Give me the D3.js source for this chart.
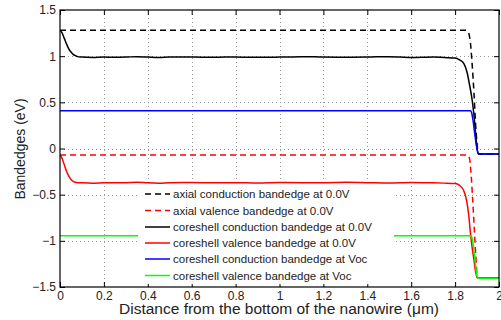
<!DOCTYPE html>
<html><head><meta charset="utf-8">
<script src="https://cdn.jsdelivr.net/npm/d3@7"></script>
<style>
html,body{margin:0;padding:0;background:#fff;}
svg text{font-family:"Liberation Sans",Arial,Helvetica,sans-serif;fill:#222;}
</style></head>
<body><svg id="chart" width="501" height="320"></svg>
<script>
// ---- data ----
const xTicks = [0, 0.2, 0.4, 0.6, 0.8, 1, 1.2, 1.4, 1.6, 1.8, 2];
const yTicks = [-1.5, -1, -0.5, 0, 0.5, 1, 1.5];
const xTickLabels = ["0","0.2","0.4","0.6","0.8","1","1.2","1.4","1.6","1.8","2"];
const yTickLabels = ["\u22121.5","\u22121","\u22120.5","0","0.5","1","1.5"];

const seriesNames = [
  "axial conduction bandedge at 0.0V",
  "axial valence bandedge at 0.0V",
  "coreshell conduction bandedge at 0.0V",
  "coreshell valence bandedge at 0.0V",
  "coreshell conduction bandedge at Voc",
  "coreshell valence bandedge at Voc"
];

const xAxialCond = [0, 1.85, 1.86, 1.87, 1.878, 1.886, 1.893, 1.9, 1.906, 2.0];
const yAxialCond = [1.28, 1.28, 1.26, 1.14, 0.9, 0.6, 0.28, 0.05, -0.06, -0.06];

const xAxialVal = [0, 1.855, 1.865, 1.872, 1.88, 1.887, 1.894, 1.902, 2.0];
const yAxialVal = [-0.07, -0.07, -0.10, -0.25, -0.55, -0.85, -1.15, -1.40, -1.40];

const xCoreCond = [0, 0.01, 0.02, 0.03, 0.04, 0.05, 0.06, 0.07, 0.08, 0.1, 0.15, 0.2, 0.25, 0.3, 0.35, 0.4, 0.45, 0.5, 0.6, 0.7, 0.8, 0.9, 1.0, 1.1, 1.2, 1.3, 1.4, 1.5, 1.6, 1.7, 1.75, 1.8, 1.82, 1.84, 1.855, 1.865, 1.878, 1.886, 1.893, 1.9, 1.908, 1.92, 2.0];
const yCoreCond = [1.28, 1.25, 1.19, 1.13, 1.08, 1.045, 1.02, 1.005, 0.995, 0.99, 0.985, 0.99, 0.988, 0.99, 0.995, 0.99, 0.985, 0.99, 0.99, 0.988, 0.992, 0.987, 0.99, 0.995, 0.99, 0.988, 0.99, 0.995, 0.985, 0.99, 0.985, 0.98, 0.96, 0.92, 0.82, 0.70, 0.52, 0.36, 0.17, 0.0, -0.06, -0.06, -0.06];

const xCoreVal = [0, 0.01, 0.02, 0.03, 0.04, 0.05, 0.06, 0.07, 0.08, 0.1, 0.15, 0.2, 0.25, 0.3, 0.35, 0.4, 0.45, 0.5, 0.6, 0.7, 0.8, 0.9, 1.0, 1.1, 1.2, 1.3, 1.4, 1.5, 1.6, 1.7, 1.75, 1.8, 1.82, 1.84, 1.852, 1.862, 1.87, 1.878, 1.886, 1.893, 1.902, 1.92, 2.0];
const yCoreVal = [-0.07, -0.11, -0.18, -0.25, -0.30, -0.335, -0.355, -0.365, -0.37, -0.372, -0.375, -0.37, -0.372, -0.37, -0.366, -0.372, -0.375, -0.37, -0.368, -0.372, -0.37, -0.374, -0.368, -0.37, -0.372, -0.366, -0.37, -0.374, -0.368, -0.372, -0.375, -0.38, -0.40, -0.46, -0.56, -0.72, -0.92, -1.08, -1.21, -1.33, -1.40, -1.40, -1.40];

const xVocCond = [0, 1.87, 1.875, 1.882, 1.89, 1.898, 1.905, 1.91, 2.0];
const yVocCond = [0.41, 0.41, 0.39, 0.30, 0.15, 0.02, -0.05, -0.06, -0.06];

const xVocVal = [0, 1.87, 1.876, 1.882, 1.888, 1.895, 1.9, 1.905, 2.0];
const yVocVal = [-0.945, -0.945, -0.96, -1.03, -1.15, -1.30, -1.38, -1.405, -1.405];

const seriesX = [xAxialCond, xAxialVal, xCoreCond, xCoreVal, xVocCond, xVocVal];
const seriesY = [yAxialCond, yAxialVal, yCoreCond, yCoreVal, yVocCond, yVocVal];
const seriesColor = ["#000000", "#ff0000", "#000000", "#ff0000", "#0000ff", "#00ff00"];
const seriesDash = ["6,4", "6,4", null, null, null, null];

// ---- layout ----
const L = 60, R = 499, T = 10, B = 287;
const svg = d3.select("#chart");
const x = d3.scaleLinear().domain([0, 2]).range([L, R]);
const y = d3.scaleLinear().domain([-1.5, 1.5]).range([B, T]);

// grid
const grid = svg.append("g").attr("stroke", "#999").attr("stroke-width", 1).attr("stroke-dasharray", "1,3");
grid.selectAll(".gx").data(xTicks.slice(1, -1)).join("line")
  .attr("x1", d => Math.round(x(d)) + 0.5).attr("x2", d => Math.round(x(d)) + 0.5)
  .attr("y1", T).attr("y2", B);
grid.selectAll(".gy").data(yTicks.slice(1, -1)).join("line")
  .attr("y1", d => Math.round(y(d)) + 0.5).attr("y2", d => Math.round(y(d)) + 0.5)
  .attr("x1", L).attr("x2", R);

// clip
svg.append("clipPath").attr("id", "clip").append("rect")
  .attr("x", L).attr("y", T).attr("width", R - L).attr("height", B - T);

const line = d3.line().curve(d3.curveMonotoneX);
const lines = svg.append("g").attr("clip-path", "url(#clip)");
seriesX.forEach((xs, i) => {
  const pts = xs.map((v, j) => [x(v), y(seriesY[i][j])]);
  lines.append("path").attr("d", line(pts)).attr("fill", "none")
    .attr("stroke", seriesColor[i]).attr("stroke-width", 1.5)
    .attr("stroke-dasharray", seriesDash[i]);
});

// axes (inner ticks on all sides)
const tickLen = 5;
const axB = svg.append("g").attr("transform", `translate(0,${B})`)
  .call(d3.axisBottom(x).tickValues(xTicks).tickFormat((d, i) => xTickLabels[i]).tickSizeInner(-tickLen).tickSizeOuter(0).tickPadding(4));
const axT = svg.append("g").attr("transform", `translate(0,${T})`)
  .call(d3.axisTop(x).tickValues(xTicks).tickFormat("").tickSizeInner(-tickLen).tickSizeOuter(0));
const axL = svg.append("g").attr("transform", `translate(${L},0)`)
  .call(d3.axisLeft(y).tickValues(yTicks).tickFormat((d, i) => yTickLabels[i]).tickSizeInner(-tickLen).tickSizeOuter(0).tickPadding(4));
const axR = svg.append("g").attr("transform", `translate(${R},0)`)
  .call(d3.axisRight(y).tickValues(yTicks).tickFormat("").tickSizeInner(-tickLen).tickSizeOuter(0));
[axB, axT, axL, axR].forEach(a => {
  a.select(".domain").remove();
  a.selectAll("line").attr("stroke", "#000");
  a.selectAll("text").attr("font-size", 12).attr("fill", "#222")
    .style("font-family", '"Liberation Sans",Arial,sans-serif');
});
svg.append("rect").attr("x", L).attr("y", T).attr("width", R - L).attr("height", B - T)
  .attr("fill", "none").attr("stroke", "#000").attr("stroke-width", 1.2);

// legend
const lg = svg.append("g");
lg.append("rect").attr("x", 138).attr("y", 184).attr("width", 256).attr("height", 100).attr("fill", "#fff");
const rowY = [194, 210.5, 227, 243, 259, 275.5];
seriesNames.forEach((n, i) => {
  lg.append("line").attr("x1", 145).attr("x2", 170).attr("y1", rowY[i]).attr("y2", rowY[i])
    .attr("stroke", seriesColor[i]).attr("stroke-width", 1.5).attr("stroke-dasharray", seriesDash[i]);
  lg.append("text").attr("x", 173).attr("y", rowY[i]).attr("dy", "0.35em")
    .attr("font-size", 11.5).text(n);
});

// axis labels
svg.append("text").attr("x", 279).attr("y", 314).attr("text-anchor", "middle")
  .attr("font-size", 15.5).text("Distance from the bottom of the nanowire (\u03bcm)");
svg.append("text").attr("transform", `translate(25,149) rotate(-90)`)
  .attr("text-anchor", "middle").attr("font-size", 14).text("Bandedges (eV)");
</script></body></html>
